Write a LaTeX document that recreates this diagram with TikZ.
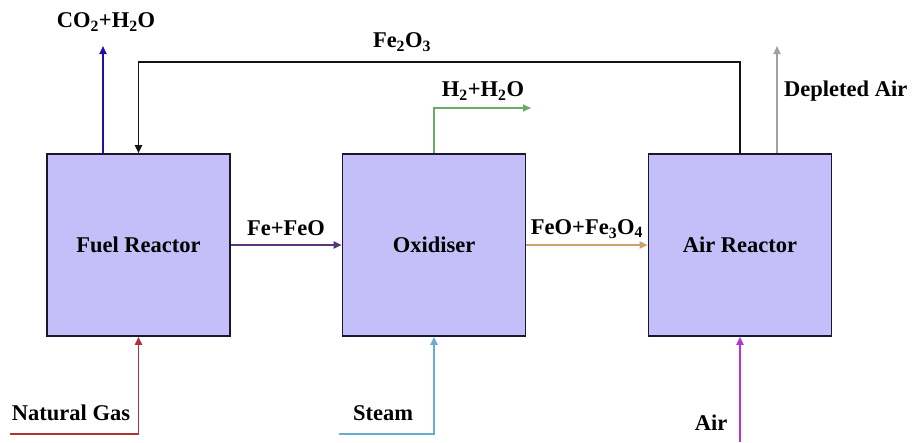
\documentclass[tikz,border=0pt]{standalone}
\usepackage{fontspec}
\setmainfont{Liberation Serif}
\usepackage{xcolor}
\definecolor{ReactorFill}{RGB}{196,191,248}
\definecolor{ReactorEdge}{RGB}{28,22,48}
\definecolor{FlueBlue}{RGB}{32,18,158}
\definecolor{OxideBlack}{RGB}{20,20,20}
\definecolor{HydroGreen}{RGB}{104,172,104}
\definecolor{DepletedGrey}{RGB}{160,160,160}
\definecolor{IronPurple}{RGB}{92,52,128}
\definecolor{OxideTan}{RGB}{206,162,112}
\definecolor{GasRed}{RGB}{172,52,52}
\definecolor{SteamBlue}{RGB}{104,172,212}
\definecolor{AirMagenta}{RGB}{182,52,212}
\usetikzlibrary{arrows.meta, positioning}

\begin{document}
\begin{tikzpicture}[x=1pt, y=-1pt, font=\fontsize{22.5}{26}\selectfont\bfseries]
    \tikzset{
        reactor/.style={rectangle, draw=ReactorEdge, line width=1.6pt,
            fill=ReactorFill, minimum width=183pt, minimum height=182pt},
        stream/.style={line width=1.8pt, -{Triangle[length=8pt, width=7pt]}},
        tag/.style={inner sep=1pt}
    }
    \useasboundingbox (0,0) rectangle (912,442);
    \node[reactor] (fuel) at (138.5,245) {Fuel Reactor};
    \node[reactor] (oxid) at (434,245) {Oxidiser};
    \node[reactor] (air) at (740,245) {Air Reactor};
    \coordinate (co2out) at (103,46);
    \coordinate (h2out) at (531,108);
    \coordinate (depout) at (777,46);
    \coordinate (gasin) at (10,434);
    \coordinate (steamin) at (339,434);
    \coordinate (airin) at (740,442);
    \draw[stream, FlueBlue] (fuel.north -| co2out) -- (co2out);
    \draw[stream, OxideBlack] (air.north) -- ++(0,-91) -| (fuel.north);
    \draw[stream, HydroGreen] (oxid.north) |- (h2out);
    \draw[stream, DepletedGrey] (air.north -| depout) -- (depout);
    \draw[stream, IronPurple] (fuel.east) -- (oxid.west);
    \draw[stream, OxideTan] (oxid.east) -- (air.west);
    \draw[stream, GasRed] (gasin) -| (fuel.south);
    \draw[stream, SteamBlue] (steamin) -| (oxid.south);
    \draw[stream, AirMagenta] (airin) -- (air.south);
    \node[tag] (co2txt) at (106,22) {CO\textsubscript{2}+H\textsubscript{2}O};
    \node[tag] (fe2o3txt) at (402,42) {Fe\textsubscript{2}O\textsubscript{3}};
    \node[tag] (h2txt) at (483,91) {H\textsubscript{2}+H\textsubscript{2}O};
    \node[tag, anchor=west] (deptxt) at (783,91) {Depleted Air};
    \node[tag] (fefeotxt) at (286,228) {Fe+FeO};
    \node[tag] (feotxt) at (587,229) {FeO+Fe\textsubscript{3}O\textsubscript{4}};
    \node[tag] (gastxt) at (71,413) {Natural Gas};
    \node[tag] (steamtxt) at (383,413) {Steam};
    \node[tag] (airtxt) at (711,423) {Air};
\end{tikzpicture}
\end{document}
